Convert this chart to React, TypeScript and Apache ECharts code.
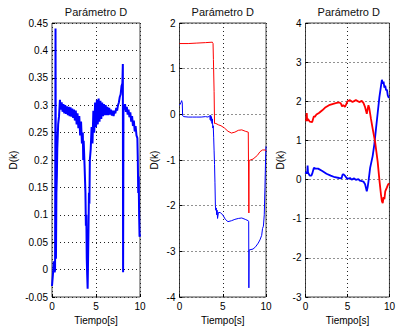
import React, { useEffect, useRef } from "react";
import * as echarts from "echarts";

const TITLE = "Parámetro D";
const X_NAME = "Tiempo[s]";
const Y_NAME = "D(k)";
const FONT = "'Liberation Sans', Arial, sans-serif";

// x axis (time) range for all panels
const xRange = { min: 0, max: 10, interval: 5 };
// y axis ranges per panel
const yRanges = [
  { min: -0.05, max: 0.45, interval: 0.05 },
  { min: -4, max: 2, interval: 1 },
  { min: -3, max: 4, interval: 1 },
];

// Panel 1 – blue
const p1Blue: [number, number][] = [
  [0, -0.03], [0.1, -0.01], [0.2, 0.015], [0.3, -0.005], [0.35, 0.0], [0.4, 0.44], [0.45, 0.02],
  [0.5, 0.14], [0.55, 0.17], [0.6, 0.22], [0.7, 0.265], [0.8, 0.28], [0.9, 0.31], [1.0, 0.292],
  [1.1, 0.305], [1.2, 0.288], [1.3, 0.302], [1.4, 0.285], [1.5, 0.3], [1.6, 0.284], [1.7, 0.298],
  [1.8, 0.282], [1.9, 0.297], [2.0, 0.28], [2.1, 0.296], [2.2, 0.279], [2.3, 0.294], [2.4, 0.277],
  [2.5, 0.292], [2.6, 0.272], [2.7, 0.29], [2.8, 0.265], [2.9, 0.285], [3.0, 0.258], [3.1, 0.28],
  [3.2, 0.245], [3.3, 0.27], [3.4, 0.23], [3.5, 0.25], [3.55, 0.2], [3.6, 0.235], [3.7, 0.19],
  [3.8, 0.14], [3.85, 0.08], [3.9, 0.1], [3.95, 0.02], [4.0, -0.01], [4.05, -0.035], [4.1, 0.02],
  [4.15, 0.08], [4.2, 0.14], [4.25, 0.12], [4.3, 0.2], [4.4, 0.22], [4.5, 0.26], [4.6, 0.23],
  [4.7, 0.29], [4.8, 0.25], [4.9, 0.305], [5.0, 0.26], [5.1, 0.31], [5.2, 0.265], [5.3, 0.312],
  [5.4, 0.27], [5.5, 0.308], [5.6, 0.275], [5.7, 0.305], [5.8, 0.28], [5.9, 0.302], [6.0, 0.282],
  [6.1, 0.3], [6.2, 0.282], [6.3, 0.297], [6.4, 0.282], [6.5, 0.295], [6.6, 0.283], [6.7, 0.292],
  [6.8, 0.281], [6.9, 0.29], [7.0, 0.28], [7.1, 0.29], [7.2, 0.285], [7.3, 0.295], [7.4, 0.29],
  [7.5, 0.3], [7.6, 0.305], [7.7, 0.315], [7.8, 0.32], [7.9, 0.335], [8.0, 0.34], [8.05, 0.375],
  [8.08, -0.005], [8.12, 0.3], [8.2, 0.292], [8.3, 0.302], [8.4, 0.288], [8.5, 0.297], [8.6, 0.283],
  [8.7, 0.292], [8.8, 0.278], [8.9, 0.287], [9.0, 0.27], [9.1, 0.28], [9.2, 0.262], [9.3, 0.272],
  [9.4, 0.252], [9.5, 0.262], [9.6, 0.245], [9.7, 0.24], [9.75, 0.2], [9.8, 0.14], [9.85, 0.17],
  [9.9, 0.1], [9.95, 0.06], [10.0, 0.065],
];

// Panel 2 – blue and red
const p2Blue: [number, number][] = [
  [0, 0.2], [0.15, 0.25], [0.25, 0.3], [0.32, 0.25], [0.36, -0.03], [0.5, -0.05], [1, -0.06],
  [1.5, -0.06], [2, -0.06], [2.5, -0.06], [3, -0.05], [3.3, -0.06], [3.5, -0.03], [3.55, -0.12],
  [3.6, -0.02], [3.65, -0.15], [3.7, -0.05], [3.75, -0.2], [3.8, -0.1], [3.85, -0.3], [3.9, -0.25],
  [3.95, -0.5], [4.0, -0.8], [4.05, -1.1], [4.1, -1.5], [4.15, -2.0], [4.2, -2.1], [4.25, -2.05],
  [4.3, -2.2], [4.35, -2.1], [4.4, -2.28], [4.5, -2.15], [4.7, -2.15], [5.0, -2.2], [5.3, -2.3],
  [5.6, -2.35], [6.0, -2.33], [6.4, -2.3], [6.8, -2.28], [7.2, -2.27], [7.6, -2.3], [7.95, -2.33],
  [8.0, -2.35], [8.02, -3.8], [8.05, -2.97], [8.5, -2.95], [8.8, -2.9], [9.1, -2.82], [9.3, -2.75],
  [9.5, -2.65], [9.6, -2.5], [9.7, -2.45], [9.8, -2.2], [9.88, -1.6], [9.95, -1.0], [10, -0.7],
];
const p2Red: [number, number][] = [
  [0, 1.55], [1, 1.55], [2, 1.56], [3, 1.57], [3.8, 1.58], [3.88, 1.55], [3.92, 1.2], [4.0, 0.5],
  [4.05, -0.2], [4.2, -0.2], [4.5, -0.23], [4.8, -0.25], [5.2, -0.3], [5.6, -0.37], [6.0, -0.41],
  [6.4, -0.39], [6.8, -0.35], [7.2, -0.34], [7.6, -0.37], [7.95, -0.39], [8.0, -0.4], [8.02, -2.16],
  [8.05, -1.01], [8.5, -0.98], [9.0, -0.9], [9.3, -0.82], [9.6, -0.78], [9.9, -0.78], [10, -0.8],
];

// Panel 3 – blue and red
const p3Blue: [number, number][] = [
  [0, 0.15], [0.1, 0.2], [0.2, 0.15], [0.25, 0.36], [0.3, 0.18], [0.5, 0.1], [0.7, 0.1], [0.8, 0.15],
  [1.0, 0.3], [1.2, 0.28], [1.5, 0.28], [2.0, 0.22], [2.5, 0.15], [3.0, 0.1], [3.5, 0.06], [4.0, 0.04],
  [4.3, 0.03], [4.4, 0.12], [4.5, 0.14], [4.7, 0.1], [4.9, 0.04], [5.0, 0.02], [5.3, 0.04], [5.5, 0.0],
  [5.8, 0.03], [6.0, -0.01], [6.3, 0.01], [6.5, -0.03], [6.9, -0.05], [7.1, -0.12], [7.3, -0.3],
  [7.4, -0.2], [7.5, -0.05], [7.7, 0.3], [8.0, 0.6], [8.2, 0.9], [8.4, 1.3], [8.6, 1.7], [8.8, 2.1],
  [9.0, 2.4], [9.1, 2.55], [9.2, 2.45], [9.3, 2.5], [9.4, 2.35], [9.5, 2.4], [9.6, 2.28], [9.7, 2.3],
  [9.8, 2.15], [9.9, 2.1], [10, 2.1],
];
const p3Red: [number, number][] = [
  [0, 1.5], [0.1, 1.52], [0.15, 1.7], [0.2, 1.5], [0.3, 1.55], [0.5, 1.48], [0.8, 1.47], [0.9, 1.55],
  [1.0, 1.62], [1.1, 1.6], [1.3, 1.66], [1.6, 1.7], [2.0, 1.77], [2.4, 1.85], [2.8, 1.9], [3.2, 1.93],
  [3.6, 1.95], [4.0, 1.97], [4.2, 1.95], [4.35, 1.87], [4.5, 1.9], [4.7, 1.86], [4.85, 1.92],
  [5.0, 2.0], [5.3, 2.03], [5.6, 1.98], [6.0, 2.03], [6.4, 1.98], [6.7, 2.01], [6.9, 1.96],
  [7.1, 1.85], [7.3, 1.68], [7.4, 1.8], [7.5, 1.9], [7.6, 1.82], [7.8, 1.55], [8.0, 1.3], [8.3, 0.95],
  [8.6, 0.45], [8.8, 0.0], [9.0, -0.4], [9.1, -0.55], [9.2, -0.6], [9.3, -0.45], [9.4, -0.5],
  [9.5, -0.3], [9.7, -0.2], [9.85, -0.12], [10, -0.1],
];

const BLUE = "#0000ff";
const RED = "#ff0000";

const grids = [
  { left: 52, top: 23, width: 88, height: 274 },
  { left: 179.5, top: 23, width: 86.5, height: 274 },
  { left: 305.5, top: 23, width: 86.5, height: 274 },
];
const yNameGaps = [34, 20, 20];

export default function App() {
  const ref = useRef<HTMLDivElement>(null);

  useEffect(() => {
    if (!ref.current) return;
    const chart = echarts.init(ref.current, undefined, { renderer: "svg" });

    const gridLine = { show: true, lineStyle: { color: "#222", type: [1, 3] as any, width: 1 } };
    const axisLabel = { color: "#000", fontSize: 10, fontFamily: FONT, margin: 4 };
    const axisTick = { show: true, inside: true, length: 3, lineStyle: { color: "#000" } };

    const option: any = {
      animation: false,
      backgroundColor: "#fff",
      title: grids.map((g) => ({
        text: TITLE,
        left: g.left + g.width / 2,
        top: 6,
        padding: 0,
        textAlign: "center",
        textStyle: { fontSize: 11, fontWeight: "normal", color: "#111", fontFamily: FONT },
      })),
      grid: grids.map((g) => ({
        ...g,
        show: true,
        backgroundColor: "#fff",
        borderColor: "#444",
        borderWidth: 1,
        containLabel: false,
      })),
      xAxis: grids.map((_, i) => ({
        gridIndex: i,
        type: "value",
        min: xRange.min,
        max: xRange.max,
        interval: xRange.interval,
        name: X_NAME,
        nameLocation: "middle",
        nameGap: 17,
        nameTextStyle: { color: "#000", fontSize: 10, fontFamily: FONT },
        axisLine: { show: false, onZero: false },
        axisTick,
        axisLabel,
        splitLine: gridLine,
      })),
      yAxis: grids.map((_, i) => ({
        gridIndex: i,
        type: "value",
        min: yRanges[i].min,
        max: yRanges[i].max,
        interval: yRanges[i].interval,
        name: Y_NAME,
        nameLocation: "middle",
        nameGap: yNameGaps[i],
        nameTextStyle: { color: "#000", fontSize: 10, fontFamily: FONT },
        axisLine: { show: false, onZero: false },
        axisTick,
        axisLabel,
        splitLine: gridLine,
      })),
      series: [
        { type: "line", xAxisIndex: 0, yAxisIndex: 0, data: p1Blue, showSymbol: false, lineStyle: { color: BLUE, width: 2 } },
        { type: "line", xAxisIndex: 1, yAxisIndex: 1, data: p2Blue, showSymbol: false, lineStyle: { color: BLUE, width: 1 } },
        { type: "line", xAxisIndex: 1, yAxisIndex: 1, data: p2Red, showSymbol: false, lineStyle: { color: RED, width: 1 } },
        { type: "line", xAxisIndex: 2, yAxisIndex: 2, data: p3Blue, showSymbol: false, lineStyle: { color: BLUE, width: 1.8 } },
        { type: "line", xAxisIndex: 2, yAxisIndex: 2, data: p3Red, showSymbol: false, lineStyle: { color: RED, width: 1.8 } },
      ].map((s) => ({ ...s, symbol: "none", silent: true, emphasis: { disabled: true } })),
    };

    chart.setOption(option);
    return () => chart.dispose();
  }, []);

  return (
    <div
      ref={ref}
      style={{ position: "fixed", left: 0, top: 0, width: 398, height: 331, background: "#fff" }}
    />
  );
}
